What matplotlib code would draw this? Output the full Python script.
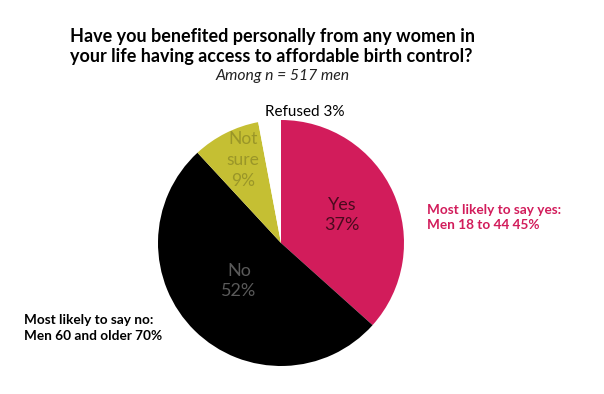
import matplotlib
matplotlib.use("Agg")
import matplotlib.pyplot as plt

categories = ["Yes", "No", "Not sure", "Refused"]
values = [37, 52, 9, 3]
colors = ["#d21c5b", "#000000", "#c5bf33", "#ffffff"]
label_colors = ["#4a0a1e", "#5a5a5a", "#9a9628", "#000000"]

title = "Have you benefited personally from any women in\nyour life having access to affordable birth control?"
subtitle = "Among n = 517 men"
note_yes = "Most likely to say yes:\nMen 18 to 44 45%"
note_no = "Most likely to say no:\nMen 60 and older 70%"

plt.rcParams['font.family'] = ['Lato', 'DejaVu Sans']

W, H = 604, 394
fig = plt.figure(figsize=(W/100, H/100), dpi=100)
fig.patch.set_facecolor("white")

cx, cy, r = 281, 243, 123
ax = fig.add_axes([(cx - r)/W, (H - cy - r)/H, 2*r/W, 2*r/H])
ax.pie(values, colors=colors, startangle=90, counterclock=False,
       wedgeprops=dict(linewidth=0))
ax.set_xlim(-1, 1)
ax.set_ylim(-1, 1)
ax.axis("off")

def px(x, y):
    return x / W, 1 - y / H

fig.text(*px(70, 62), title, ha="left", va="baseline", fontsize=13,
         fontweight="bold", linespacing=1.2)
fig.text(*px(283, 76), subtitle, ha="center", va="center", fontsize=11.3,
         style="italic", color="#222222")

fig.text(*px(342, 215), "Yes\n37%", ha="center", va="center", fontsize=13,
         color=label_colors[0], linespacing=1.35)
fig.text(*px(239, 281), "No\n52%", ha="center", va="center", fontsize=13,
         color=label_colors[1], linespacing=1.35)
fig.text(*px(243, 160), "Not\nsure\n9%", ha="center", va="center", fontsize=12.5,
         color=label_colors[2], linespacing=1.35)
fig.text(*px(305, 112), "Refused 3%", ha="center", va="center", fontsize=11,
         color=label_colors[3])

fig.text(*px(427, 217), note_yes, ha="left", va="center", fontsize=9.8,
         fontweight="bold", color="#d21c5b", linespacing=1.3)
fig.text(*px(24, 328), note_no, ha="left", va="center", fontsize=9.8,
         fontweight="bold", color="#000000", linespacing=1.3)

fig.savefig("out.png", dpi=100, facecolor="white")
